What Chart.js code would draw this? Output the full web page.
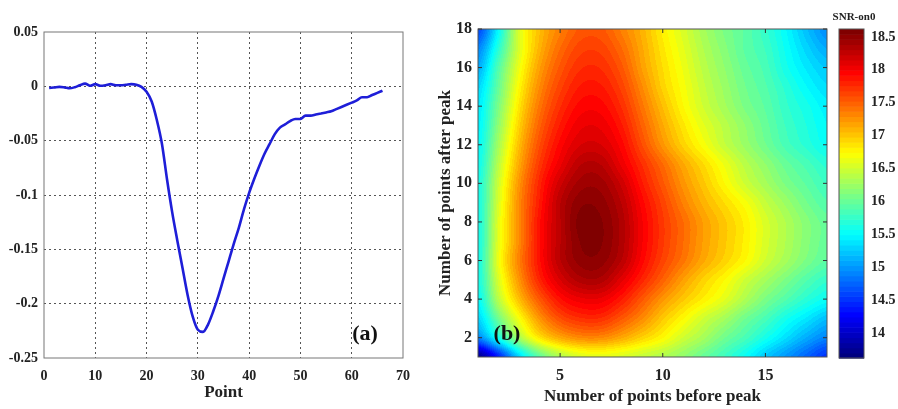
<!DOCTYPE html>
<html>
<head>
<meta charset="utf-8">
<script src="https://cdn.jsdelivr.net/npm/chart.js@4"></script>
<style>
  body { margin: 0; background: #fff; }
  #wrap { position: relative; width: 898px; height: 409px; }
  canvas { position: absolute; top: 0; }
</style>
</head>
<body>
<div id="wrap">
  <canvas id="lineChart" width="420" height="409" style="left:0"></canvas>
  <canvas id="heatChart" width="415" height="409" style="left:420px"></canvas>
  <canvas id="barChart" width="68" height="409" style="left:830px"></canvas>
</div>
<script>
// (a) signal around the peak
const points = [];
for (let i = 1; i <= 66; i++) points.push(i);
const signal = [
  -0.0015, -0.001, -0.0005, -0.001, -0.0018, -0.0008, 0.001, 0.0025, 0.0005, 0.002,
  0.0005, 0.001, 0.002, 0.001, 0.001, 0.0015, 0.002, 0.0015, -0.0005, -0.005,
  -0.014, -0.031, -0.053, -0.086, -0.116, -0.142, -0.167, -0.192, -0.212, -0.224,
  -0.226, -0.219, -0.207, -0.193, -0.177, -0.161, -0.145, -0.13, -0.113, -0.098,
  -0.085, -0.073, -0.062, -0.053, -0.044, -0.038, -0.035, -0.032, -0.030, -0.030,
  -0.027, -0.027, -0.026, -0.025, -0.024, -0.023, -0.021, -0.019, -0.017, -0.015,
  -0.013, -0.010, -0.010, -0.008, -0.006, -0.004
];
const xTicksA = [0, 10, 20, 30, 40, 50, 60, 70];
const yTicksA = [0.05, 0, -0.05, -0.1, -0.15, -0.2, -0.25];

// (b) SNR map, rows = points after peak (1..18), columns = points before peak (1..18)
const beforePeak = [1, 2, 3, 4, 5, 6, 7, 8, 9, 10, 11, 12, 13, 14, 15, 16, 17, 18];
const afterPeak = [1, 2, 3, 4, 5, 6, 7, 8, 9, 10, 11, 12, 13, 14, 15, 16, 17, 18];
const snrRows = [
  [13.7, 14.4, 15.3, 15.95, 16.35, 16.55, 16.6, 16.55, 16.45, 16.35, 16.2, 16.0, 15.8, 15.55, 15.25, 15.0, 14.75, 14.5],
  [14.9, 15.6, 16.3, 16.85, 17.15, 17.3, 17.3, 17.15, 16.95, 16.75, 16.5, 16.3, 16.05, 15.85, 15.6, 15.35, 15.1, 14.9],
  [15.3, 16.05, 16.7, 17.25, 17.6, 17.75, 17.75, 17.55, 17.3, 17.0, 16.75, 16.5, 16.3, 16.05, 15.85, 15.6, 15.4, 15.2],
  [15.5, 16.4, 17.05, 17.55, 17.9, 18.05, 18.05, 17.85, 17.55, 17.25, 17.0, 16.8, 16.6, 16.35, 16.1, 15.9, 15.7, 15.55],
  [15.6, 16.55, 17.25, 17.8, 18.15, 18.35, 18.35, 18.1, 17.8, 17.5, 17.2, 16.95, 16.75, 16.5, 16.3, 16.1, 15.9, 15.75],
  [15.6, 16.65, 17.35, 17.9, 18.3, 18.5, 18.5, 18.3, 17.95, 17.65, 17.4, 17.15, 16.95, 16.75, 16.5, 16.3, 16.1, 15.95],
  [15.6, 16.6, 17.3, 17.9, 18.3, 18.55, 18.55, 18.35, 18.0, 17.7, 17.45, 17.2, 17.0, 16.8, 16.55, 16.35, 16.15, 16.0],
  [15.6, 16.6, 17.3, 17.9, 18.3, 18.58, 18.55, 18.35, 18.0, 17.7, 17.45, 17.2, 17.0, 16.8, 16.55, 16.35, 16.15, 16.0],
  [15.6, 16.55, 17.3, 17.85, 18.3, 18.52, 18.5, 18.3, 17.95, 17.65, 17.35, 17.1, 16.9, 16.7, 16.45, 16.25, 16.05, 15.9],
  [15.6, 16.5, 17.25, 17.8, 18.2, 18.42, 18.42, 18.2, 17.85, 17.55, 17.25, 17.0, 16.75, 16.5, 16.3, 16.1, 15.95, 15.8],
  [15.55, 16.4, 17.15, 17.7, 18.05, 18.3, 18.3, 18.05, 17.75, 17.45, 17.15, 16.9, 16.65, 16.4, 16.2, 16.0, 15.85, 15.7],
  [15.5, 16.3, 17.05, 17.6, 17.95, 18.15, 18.15, 17.95, 17.6, 17.25, 16.95, 16.7, 16.45, 16.25, 16.05, 15.85, 15.7, 15.55],
  [15.45, 16.2, 16.95, 17.5, 17.85, 18.05, 18.05, 17.85, 17.5, 17.15, 16.85, 16.6, 16.4, 16.2, 16.0, 15.8, 15.65, 15.5],
  [15.4, 16.1, 16.85, 17.4, 17.75, 17.95, 17.95, 17.75, 17.4, 17.05, 16.75, 16.5, 16.3, 16.1, 15.95, 15.75, 15.6, 15.45],
  [15.3, 16.0, 16.75, 17.3, 17.65, 17.85, 17.85, 17.65, 17.3, 16.95, 16.7, 16.45, 16.25, 16.05, 15.9, 15.7, 15.5, 15.35],
  [15.1, 15.9, 16.65, 17.2, 17.55, 17.75, 17.75, 17.55, 17.2, 16.9, 16.65, 16.4, 16.2, 16.0, 15.85, 15.6, 15.4, 15.25],
  [14.9, 15.7, 16.55, 17.1, 17.45, 17.65, 17.65, 17.45, 17.15, 16.85, 16.6, 16.35, 16.15, 15.95, 15.8, 15.55, 15.3, 15.1],
  [14.6, 15.5, 16.55, 17.05, 17.35, 17.55, 17.55, 17.35, 17.1, 16.8, 16.55, 16.3, 16.1, 15.95, 15.75, 15.5, 15.2, 14.95]
];
const xTicksB = [5, 10, 15];
const yTicksB = [2, 4, 6, 8, 10, 12, 14, 16, 18];
const cbTicks = [14, 14.5, 15, 15.5, 16, 16.5, 17, 17.5, 18, 18.5];
const cbMin = 13.62, cbMax = 18.62;

const serif = "'Liberation Serif', 'Times New Roman', serif";
Chart.defaults.font.family = serif;
Chart.defaults.font.weight = 'bold';
Chart.defaults.color = '#222';

function setTicks(list) {
  return s => { s.ticks = list.map(v => ({ value: v })); };
}

function jet(t) {
  t = Math.min(1, Math.max(0, t));
  t = Math.floor(t * 63.999) / 63;   // 64-colour map like matlab
  const c = v => Math.round(255 * Math.min(1, Math.max(0, v)));
  return [c(1.5 - Math.abs(4 * t - 3)), c(1.5 - Math.abs(4 * t - 2)), c(1.5 - Math.abs(4 * t - 1))];
}

// catmull-rom between grid nodes, only used for smooth shading
function cr(p0, p1, p2, p3, t) {
  return p1 + 0.5 * t * (p2 - p0 + t * (2 * p0 - 5 * p1 + 4 * p2 - p3 + t * (3 * (p1 - p2) + p3 - p0)));
}

function sampleSnr(xv, yv) {
  const nx = beforePeak.length, ny = afterPeak.length;
  const fx = Math.min(nx - 1, Math.max(0, xv - beforePeak[0]));
  const fy = Math.min(ny - 1, Math.max(0, yv - afterPeak[0]));
  const i = Math.min(nx - 2, Math.floor(fx)), j = Math.min(ny - 2, Math.floor(fy));
  const tx = fx - i, ty = fy - j;
  const ci = k => Math.min(nx - 1, Math.max(0, k));
  const cj = k => Math.min(ny - 1, Math.max(0, k));
  const rowAt = r => {
    const row = snrRows[cj(r)];
    return cr(row[ci(i - 1)], row[i], row[i + 1], row[ci(i + 2)], tx);
  };
  return cr(rowAt(j - 1), rowAt(j), rowAt(j + 1), rowAt(j + 2), ty);
}

const frame = {
  id: 'frame',
  afterDraw(chart, args, opts) {
    const { ctx, chartArea: a } = chart;
    ctx.save();
    ctx.strokeStyle = opts.color || '#666';
    ctx.lineWidth = 1;
    ctx.strokeRect(a.left, a.top, a.right - a.left, a.bottom - a.top);
    if (opts.ticks) {
      ctx.strokeStyle = '#333';
      ctx.beginPath();
      ['x', 'y'].forEach(id => {
        const sc = chart.scales[id];
        if (!sc || !sc.options.display) return;
        sc.ticks.forEach(t => {
          const p = sc.getPixelForValue(t.value);
          if (id === 'x') {
            ctx.moveTo(p, a.bottom); ctx.lineTo(p, a.bottom - 4);
            ctx.moveTo(p, a.top); ctx.lineTo(p, a.top + 4);
          } else {
            ctx.moveTo(a.left, p); ctx.lineTo(a.left + 4, p);
            ctx.moveTo(a.right, p); ctx.lineTo(a.right - 4, p);
          }
        });
      });
      ctx.stroke();
    }
    ctx.restore();
  }
};

function panelLabel(text, fromRight, dx, dy) {
  return {
    id: 'panel',
    afterDraw(chart) {
      const { ctx, chartArea: a } = chart;
      ctx.save();
      ctx.font = 'bold 22px ' + serif;
      ctx.fillStyle = '#111';
      ctx.textAlign = 'center';
      ctx.textBaseline = 'middle';
      ctx.fillText(text, fromRight ? a.right - dx : a.left + dx, a.bottom - dy);
      ctx.restore();
    }
  };
}

// left panel
new Chart(document.getElementById('lineChart'), {
  type: 'line',
  data: {
    datasets: [{
      data: points.map((p, i) => ({ x: p, y: signal[i] })),
      borderColor: '#1e1ed8',
      borderWidth: 2.6,
      pointRadius: 0,
      cubicInterpolationMode: 'monotone'
    }]
  },
  options: {
    responsive: false,
    animation: false,
    layout: { padding: { left: 0, right: 17, top: 32, bottom: 0 } },
    plugins: { legend: { display: false }, tooltip: { enabled: false }, frame: { color: '#777' } },
    scales: {
      x: {
        type: 'linear', min: 0, max: 70,
        afterBuildTicks: setTicks(xTicksA),
        afterFit: s => { s.height = 51; },
        grid: { color: c => (c.tick && (c.tick.value === 0 || c.tick.value === 70)) ? 'rgba(0,0,0,0)' : '#555', drawTicks: false },
        border: { display: false, dash: [2, 3] },
        ticks: { padding: 10, font: { size: 14 }, callback: v => String(v) },
        title: { display: true, text: 'Point', font: { size: 17 }, padding: { top: 0, bottom: 6 } }
      },
      y: {
        min: -0.25, max: 0.05,
        afterBuildTicks: setTicks(yTicksA),
        afterFit: s => { s.width = 44; },
        grid: { color: c => (c.tick && (c.tick.value === 0.05 || c.tick.value === -0.25)) ? 'rgba(0,0,0,0)' : '#555', drawTicks: false },
        border: { display: false, dash: [2, 3] },
        ticks: { padding: 6, font: { size: 14 }, callback: v => String(+v.toFixed(2)) }
      }
    }
  },
  plugins: [frame, panelLabel('(a)', true, 38, 24)]
});

// heat map
const heatLayer = {
  id: 'heatLayer',
  beforeDatasetsDraw(chart) {
    const { ctx, chartArea: a, scales: { x, y } } = chart;
    const w = Math.round(a.right - a.left), h = Math.round(a.bottom - a.top);
    const off = document.createElement('canvas');
    off.width = w; off.height = h;
    const octx = off.getContext('2d');
    const img = octx.createImageData(w, h);
    for (let j = 0; j < h; j++) {
      const yv = y.getValueForPixel(a.top + (j + 0.5) * (a.bottom - a.top) / h);
      for (let i = 0; i < w; i++) {
        const xv = x.getValueForPixel(a.left + (i + 0.5) * (a.right - a.left) / w);
        const rgb = jet((sampleSnr(xv, yv) - cbMin) / (cbMax - cbMin));
        const k = (j * w + i) * 4;
        img.data[k] = rgb[0]; img.data[k + 1] = rgb[1]; img.data[k + 2] = rgb[2]; img.data[k + 3] = 255;
      }
    }
    octx.putImageData(img, 0, 0);
    ctx.drawImage(off, a.left, a.top, a.right - a.left, a.bottom - a.top);
  }
};

new Chart(document.getElementById('heatChart'), {
  type: 'scatter',
  data: { datasets: [{ data: [], pointRadius: 0 }] },
  options: {
    responsive: false,
    animation: false,
    layout: { padding: { left: 0, right: 8, top: 29, bottom: 0 } },
    plugins: { legend: { display: false }, tooltip: { enabled: false }, frame: { color: '#555', ticks: true } },
    scales: {
      x: {
        type: 'linear', min: 1, max: 18,
        afterBuildTicks: setTicks(xTicksB),
        afterFit: s => { s.height = 52; },
        grid: { display: false, drawTicks: false },
        border: { display: false },
        ticks: { padding: 9, font: { size: 16 } },
        title: { display: true, text: 'Number of points before peak', font: { size: 17 }, padding: { top: 0, bottom: 2 } }
      },
      y: {
        type: 'linear', min: 1, max: 18,
        afterBuildTicks: setTicks(yTicksB),
        afterFit: s => { s.width = 58; },
        grid: { display: false, drawTicks: false },
        border: { display: false },
        ticks: { padding: 6, font: { size: 16 } },
        title: { display: true, text: 'Number of points after peak', font: { size: 17 }, padding: { top: 15, bottom: 0 } }
      }
    }
  },
  plugins: [heatLayer, frame, panelLabel('(b)', false, 29, 23)]
});

// colour bar
const barFill = {
  id: 'barFill',
  beforeDatasetsDraw(chart) {
    const { ctx, chartArea: a, scales: { y } } = chart;
    const steps = 64, span = (cbMax - cbMin) / steps;
    for (let k = 0; k < steps; k++) {
      const y0 = y.getPixelForValue(cbMin + k * span);
      const y1 = y.getPixelForValue(cbMin + (k + 1) * span);
      const rgb = jet((k + 0.5) / steps);
      ctx.fillStyle = `rgb(${rgb[0]},${rgb[1]},${rgb[2]})`;
      ctx.fillRect(a.left, y1, a.right - a.left, y0 - y1 + 0.6);
    }
  },
  afterDraw(chart) {
    const { ctx } = chart;
    ctx.save();
    ctx.font = 'bold 11px ' + serif;
    ctx.fillStyle = '#222';
    ctx.textAlign = 'center';
    ctx.textBaseline = 'middle';
    ctx.fillText('SNR-on0', 24, 17);
    ctx.restore();
  }
};

new Chart(document.getElementById('barChart'), {
  type: 'scatter',
  data: { datasets: [{ data: [], pointRadius: 0 }] },
  options: {
    responsive: false,
    animation: false,
    layout: { padding: { left: 9, right: 0, top: 29, bottom: 51 } },
    plugins: { legend: { display: false }, tooltip: { enabled: false }, frame: { color: '#555' } },
    scales: {
      x: { display: false, min: 0, max: 1 },
      y: {
        position: 'right', min: cbMin, max: cbMax,
        afterBuildTicks: setTicks(cbTicks),
        afterFit: s => { s.width = 34; },
        grid: { display: false, drawTicks: false },
        border: { display: false },
        ticks: { padding: 7, font: { size: 14 }, callback: v => String(v) }
      }
    }
  },
  plugins: [barFill, frame]
});
</script>
</body>
</html>
